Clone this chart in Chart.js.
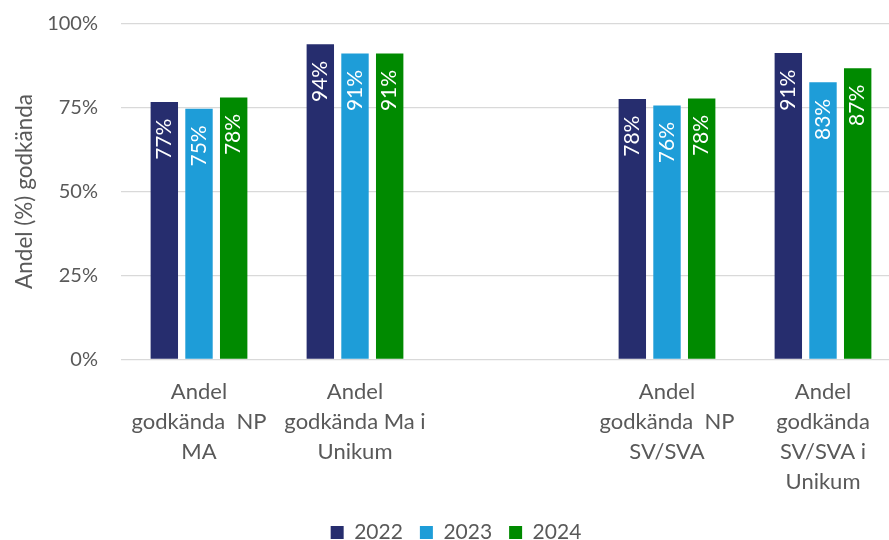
<!DOCTYPE html>
<html>
<head>
<meta charset="utf-8">
<script src="https://cdn.jsdelivr.net/npm/chart.js@4.4.1/dist/chart.umd.min.js"></script>
<style>
  html, body { margin: 0; padding: 0; background: #fff; overflow: hidden; }
  #wrap { position: relative; width: 912px; height: 553px; }
</style>
</head>
<body>
<div id="wrap"><canvas id="myChart"></canvas></div>
<script>
// kategorier (tom kategori i mitten ger luckan)
const kategorier = [
  ['Andel', 'godkända  NP', 'MA'],
  ['Andel', 'godkända Ma i', 'Unikum'],
  '',
  ['Andel', 'godkända  NP', 'SV/SVA'],
  ['Andel', 'godkända', 'SV/SVA i', 'Unikum']
];
const varden2022 = [76.6, 93.8, null, 77.5, 91.2];
const varden2023 = [74.6, 91.1, null, 75.6, 82.5];
const varden2024 = [78.0, 91.1, null, 77.7, 86.7];
const yTicks = [0, 25, 50, 75, 100];

const textFarg = '#595959';
const typsnitt = 'Lato';

// etiketter inne i staplarna, roterade
const stapelEtiketter = {
  id: 'stapelEtiketter',
  afterDatasetsDraw(chart) {
    const ctx = chart.ctx;
    chart.data.datasets.forEach((ds, i) => {
      const meta = chart.getDatasetMeta(i);
      meta.data.forEach((bar, j) => {
        const v = ds.data[j];
        if (v === null || v === undefined) return;
        ctx.save();
        ctx.translate(bar.x, bar.y + 16.5);
        ctx.rotate(-Math.PI / 2);
        ctx.font = '21px ' + typsnitt;
        ctx.fillStyle = '#ffffff';
        ctx.textAlign = 'right';
        ctx.textBaseline = 'middle';
        ctx.fillText(Math.round(v) + '%', 0, 0);
        ctx.restore();
      });
    });
  }
};

const data = {
  labels: kategorier,
  datasets: [{
    label: '2022',
    backgroundColor: '#262D6E',
    data: varden2022
  }, {
    label: '2023',
    backgroundColor: '#1E9DD8',
    data: varden2023
  }, {
    label: '2024',
    backgroundColor: '#008A00',
    data: varden2024
  }]
};

new Chart(document.getElementById('myChart'), {
  type: 'bar',
  data,
  plugins: [stapelEtiketter],
  options: {
    responsive: true,
    maintainAspectRatio: false,
    devicePixelRatio: 1,
    animation: false,
    categoryPercentage: 0.667,
    barPercentage: 0.79,
    layout: { padding: { top: 23.5, left: 11, right: 11, bottom: 0 } },
    plugins: {
      tooltip: { enabled: false },
      legend: {
        position: 'bottom',
        labels: {
          boxWidth: 13,
          boxHeight: 13,
          padding: 17,
          color: textFarg,
          font: { family: typsnitt, size: 21 }
        }
      }
    },
    scales: {
      x: {
        grid: { display: false },
        border: { display: false },
        ticks: {
          color: textFarg,
          font: { family: typsnitt, size: 22, lineHeight: 30 / 22 },
          padding: 9,
          maxRotation: 0,
          autoSkip: false
        },
        afterFit(scale) { scale.height = 145.5; }
      },
      y: {
        min: 0,
        max: 100,
        afterBuildTicks(scale) { scale.ticks = yTicks.map(v => ({ value: v })); },
        grid: { color: '#d9d9d9', lineWidth: 1.3, drawTicks: false },
        border: { display: false },
        ticks: {
          color: textFarg,
          font: { family: typsnitt, size: 20 },
          padding: 23,
          callback: v => v + '%'
        },
        title: {
          display: true,
          text: 'Andel (%) godkända',
          color: textFarg,
          font: { family: typsnitt, size: 22.5 },
          padding: { top: 0, bottom: 0 }
        },
        afterFit(scale) {
          scale.width = 110;
          scale.paddingTop = 0;
          scale.paddingBottom = 0;
        }
      }
    }
  }
});
</script>
</body>
</html>
